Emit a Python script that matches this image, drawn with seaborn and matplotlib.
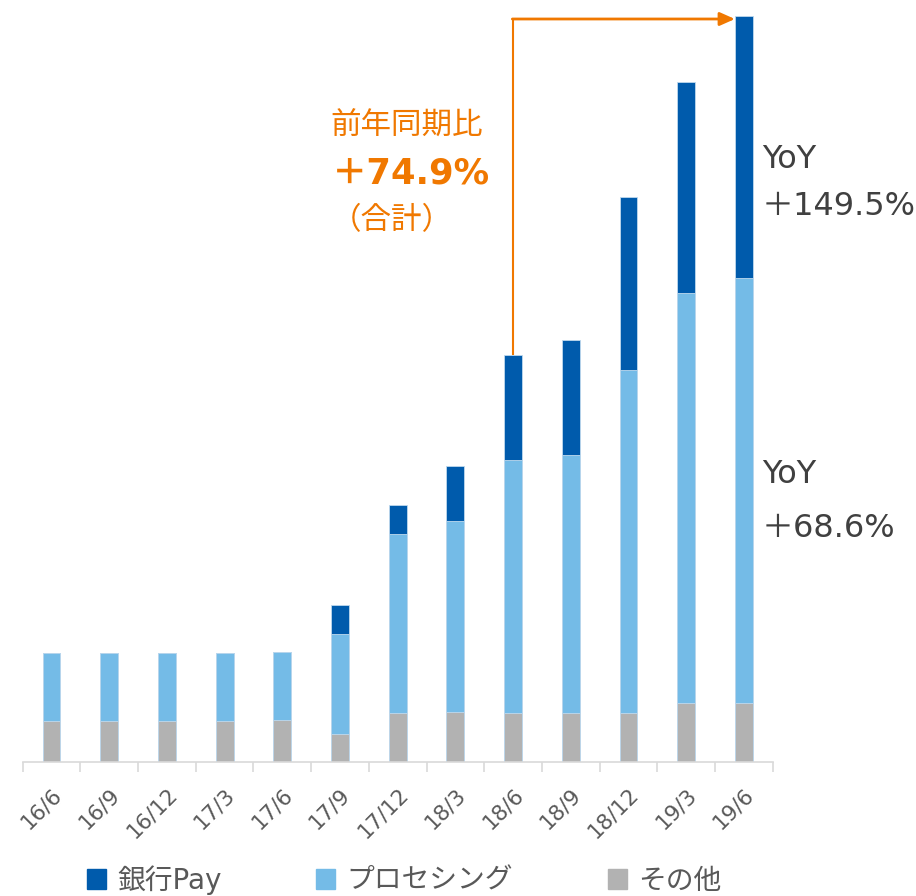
import matplotlib
matplotlib.use("Agg")
import matplotlib.pyplot as plt
import matplotlib.patches as mpatches
import seaborn as sns
import pandas as pd
import numpy as np

categories = ["16/6", "16/9", "16/12", "17/3", "17/6", "17/9", "17/12",
              "18/3", "18/6", "18/9", "18/12", "19/3", "19/6"]
other = [40.7, 40.7, 40.7, 40.7, 41.7, 28.0, 49.3, 49.7, 49.5, 49.5, 49.5, 58.7, 58.7]
processing = [68.0, 68.0, 68.0, 68.0, 68.0, 99.7, 178.4, 191.3, 252.3, 257.3, 342.0, 410.0, 425.0]
bankpay = [0.0, 0.0, 0.0, 0.0, 0.0, 29.6, 29.3, 55.3, 104.7, 115.3, 173.6, 211.6, 262.3]
series_names = ["銀行Pay", "プロセシング", "その他"]
yoy_bank = ["YoY", "＋149.5%"]
yoy_proc = ["YoY", "＋68.6%"]
total_label = ["前年同期比", "＋74.9%", "（合計）"]

C_DARK = "#005BAC"
C_LIGHT = "#74BBE7"
C_GREY = "#B2B2B2"
C_ORANGE = "#F07800"
C_TEXT = "#404040"

sns.set_style("white")
plt.rcParams["font.family"] = ["DejaVu Sans", "Noto Sans CJK JP"]
CJK_FIRST = ["Noto Sans CJK JP", "DejaVu Sans"]

df = pd.DataFrame({"cat": categories, "other": other,
                   "proc": processing, "bank": bankpay})
df["lvl1"] = df["other"]
df["lvl2"] = df["other"] + df["proc"]
df["lvl3"] = df["lvl2"] + df["bank"]

fig = plt.figure(figsize=(9.16, 8.96), dpi=100)
ax = fig.add_axes([22.7 / 916, (896 - 762) / 896, 750 / 916, 762 / 896])

W = 0.31
for col, color in [("lvl3", C_DARK), ("lvl2", C_LIGHT), ("lvl1", C_GREY)]:
    sns.barplot(data=df, x="cat", y=col, color=color, width=W, ax=ax,
                saturation=1, edgecolor="#BFD9EE", linewidth=0.6,
                errorbar=None, order=categories)

ax.set_xlim(-0.5, len(categories) - 0.5)
ax.set_ylim(0, 762)
ax.set_xlabel("")
ax.set_ylabel("")
ax.set_yticks([])
for s in ["top", "right", "left"]:
    ax.spines[s].set_visible(False)
ax.spines["bottom"].set_color("#D9D9D9")
ax.spines["bottom"].set_linewidth(1.2)

ax.set_xticks(np.arange(len(categories)))
ax.set_xticklabels(categories, rotation=45, ha="right", va="top",
                   rotation_mode="anchor", fontsize=15.5, color="#595959")
ax.tick_params(axis="x", which="major", bottom=True, length=0, pad=16)
ax.set_xticks(np.arange(-0.5, len(categories)), minor=True)
ax.tick_params(axis="x", which="minor", bottom=True, length=7, width=1.2,
               color="#D9D9D9", direction="out")

# Arrow from 18/6 total to 19/6 total
i0 = categories.index("18/6")
i1 = len(categories) - 1
t0 = df["lvl3"].iloc[i0]
t1 = df["lvl3"].iloc[i1]
ax.plot([i0, i0], [t0, t1 - 3], color=C_ORANGE, lw=1.5, solid_capstyle="butt")
ax.annotate("", xy=(i1 - W / 2, t1 - 3), xytext=(i0 - 0.013, t1 - 3),
            arrowprops=dict(arrowstyle="-|>,head_length=0.9,head_width=0.4",
                            color=C_ORANGE, lw=2, shrinkA=0, shrinkB=0))

# Orange annotation
fig.text(407 / 916, 1 - 126 / 896, total_label[0], color=C_ORANGE,
         fontsize=22, ha="center", va="center")
fig.text(411 / 916, 1 - 174 / 896, total_label[1], color=C_ORANGE,
         fontsize=25.5, fontweight="bold", ha="center", va="center")
fig.text(392 / 916, 1 - 221 / 896, total_label[2], color=C_ORANGE,
         fontsize=22, ha="center", va="center", family=CJK_FIRST)

# YoY labels
for lines, (y1, y2) in [(yoy_bank, (168, 215)), (yoy_proc, (483, 537))]:
    fig.text(762 / 916, 1 - y1 / 896, lines[0], color=C_TEXT, fontsize=23,
             ha="left", va="baseline")
    fig.text(762 / 916, 1 - y2 / 896, lines[1], color=C_TEXT, fontsize=23,
             ha="left", va="baseline")

handles = [mpatches.Patch(color=c) for c in [C_DARK, C_LIGHT, C_GREY]]
leg = fig.legend(handles, series_names, loc="center", ncol=3,
                 bbox_to_anchor=(404 / 916, 16 / 896), frameon=False,
                 fontsize=20, handlelength=0.7, handleheight=0.7,
                 handletextpad=0.4, columnspacing=3.4)
for t in leg.get_texts():
    t.set_color("#595959")

fig.savefig("out.png", dpi=100)
